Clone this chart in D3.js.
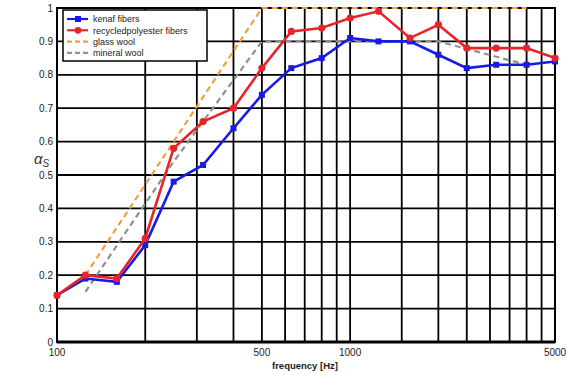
<!DOCTYPE html>
<html>
<head>
<meta charset="utf-8">
<script src="https://cdn.jsdelivr.net/npm/d3@7"></script>
<style>
  body { margin: 0; background: #fff; }
  svg text { font-family: "Liberation Sans", Arial, sans-serif; fill: #222; }
</style>
</head>
<body>
<svg width="567" height="375"></svg>
<script>
// third-octave band centres
var freqs = [100, 125, 160, 200, 250, 315, 400, 500, 630, 800, 1000, 1250, 1600, 2000, 2500, 3150, 4000, 5000];
var kenaf = [0.14, 0.19, 0.18, 0.29, 0.48, 0.53, 0.64, 0.74, 0.82, 0.85, 0.91, 0.90, 0.90, 0.86, 0.82, 0.83, 0.83, 0.84];
var polyester = [0.14, 0.20, 0.19, 0.31, 0.58, 0.66, 0.70, 0.82, 0.93, 0.94, 0.97, 0.99, 0.91, 0.95, 0.88, 0.88, 0.88, 0.85];
// octave bands for the reference materials
var octFreqs = [125, 250, 500, 1000, 2000, 4000];
var glassWool = [0.20, 0.60, 1.00, 1.00, 1.00, 1.00];
var mineralWool = [0.15, 0.54, 0.90, 0.90, 0.90, 0.83];

var gridX = [200, 300, 400, 500, 600, 700, 800, 900, 1000, 1500, 2000, 2500, 3000, 3500, 4000, 4500];
var xTickLabels = [100, 500, 1000, 5000];
var yTicks = [0, 0.1, 0.2, 0.3, 0.4, 0.5, 0.6, 0.7, 0.8, 0.9, 1];
var legendNames = ["kenaf fibers", "recycledpolyester fibers", "glass wool", "mineral wool"];

var svg = d3.select("svg");
var x = d3.scaleLog().domain([100, 5000]).range([57, 555]);
var y = d3.scaleLinear().domain([0, 1]).range([342, 8]);

// grid
svg.append("g").selectAll("line").data(gridX).enter().append("line")
    .attr("x1", function(d){ return x(d); }).attr("x2", function(d){ return x(d); })
    .attr("y1", y(0)).attr("y2", y(1))
    .attr("stroke", "#000").attr("stroke-width", 1.8);
svg.append("g").selectAll("line").data(yTicks.slice(1, 10)).enter().append("line")
    .attr("x1", x(100)).attr("x2", x(5000))
    .attr("y1", function(d){ return y(d); }).attr("y2", function(d){ return y(d); })
    .attr("stroke", "#000").attr("stroke-width", 1.8);

// box
svg.append("rect").attr("x", x(100)).attr("y", y(1))
    .attr("width", x(5000) - x(100)).attr("height", y(0) - y(1))
    .attr("fill", "none").attr("stroke", "#000").attr("stroke-width", 2);
svg.append("line").attr("x1", x(100)).attr("x2", x(5000)).attr("y1", y(0)).attr("y2", y(0))
    .attr("stroke", "#000").attr("stroke-width", 3);

// tick labels
svg.append("g").selectAll("text").data(yTicks).enter().append("text")
    .attr("x", 53).attr("y", function(d){ return y(d) + 3.5; })
    .attr("text-anchor", "end").attr("font-size", 10)
    .text(function(d){ return d === 0 || d === 1 ? d : d3.format(".1f")(d); });
svg.append("g").selectAll("text").data(xTickLabels).enter().append("text")
    .attr("x", function(d){ return x(d); }).attr("y", 356)
    .attr("text-anchor", "middle").attr("font-size", 10)
    .text(function(d){ return d; });

svg.append("text").attr("x", 305).attr("y", 369).attr("text-anchor", "middle")
    .attr("font-size", 9.5).attr("font-weight", "bold").text("frequency [Hz]");
var yl = svg.append("text").attr("x", 34).attr("y", 164).attr("font-size", 15)
    .attr("font-style", "italic").attr("font-family", "'Liberation Serif', serif").style("fill", "#333");
yl.append("tspan").text("α");
yl.append("tspan").attr("font-size", 10).attr("dy", 3).text("S");

// lines
var line = d3.line().x(function(d){ return x(d[0]); }).y(function(d){ return y(d[1]); });

function dashed(xs, vals, color){
  svg.append("path").datum(d3.zip(xs, vals)).attr("d", line)
    .attr("fill", "none").attr("stroke", color).attr("stroke-width", 2.2)
    .attr("stroke-dasharray", "6,4");
}
dashed(octFreqs, glassWool, "#f0a040");
dashed(octFreqs, mineralWool, "#909090");

svg.append("path").datum(d3.zip(freqs, kenaf)).attr("d", line)
    .attr("fill", "none").attr("stroke", "#1a1ae6").attr("stroke-width", 2.6);
svg.append("g").selectAll("rect").data(d3.zip(freqs, kenaf)).enter().append("rect")
    .attr("x", function(d){ return x(d[0]) - 3; }).attr("y", function(d){ return y(d[1]) - 3; })
    .attr("width", 6).attr("height", 6).attr("fill", "#1a1ae6");

svg.append("path").datum(d3.zip(freqs, polyester)).attr("d", line)
    .attr("fill", "none").attr("stroke", "#e8242a").attr("stroke-width", 2.6);
svg.append("g").selectAll("circle").data(d3.zip(freqs, polyester)).enter().append("circle")
    .attr("cx", function(d){ return x(d[0]); }).attr("cy", function(d){ return y(d[1]); })
    .attr("r", 3.6).attr("fill", "#e8242a");

// legend
var lg = svg.append("g");
lg.append("rect").attr("x", 63).attr("y", 10).attr("width", 144).attr("height", 51)
    .attr("fill", "#fff").attr("stroke", "#000").attr("stroke-width", 1.5);
var lgColors = ["#1a1ae6", "#e8242a", "#f0a040", "#909090"];
legendNames.forEach(function(name, i){
  var yy = 19 + i * 11.3;
  var l = lg.append("line").attr("x1", 67).attr("x2", 88).attr("y1", yy).attr("y2", yy)
      .attr("stroke", lgColors[i]).attr("stroke-width", 2.2);
  if (i >= 2) l.attr("stroke-dasharray", "5,3");
  if (i === 0) lg.append("rect").attr("x", 75).attr("y", yy - 3).attr("width", 6).attr("height", 6).attr("fill", lgColors[i]);
  if (i === 1) lg.append("circle").attr("cx", 78).attr("cy", yy).attr("r", 3.4).attr("fill", lgColors[i]);
  lg.append("text").attr("x", 93).attr("y", yy + 3.2).attr("font-size", 9).text(name);
});
</script>
</body>
</html>
